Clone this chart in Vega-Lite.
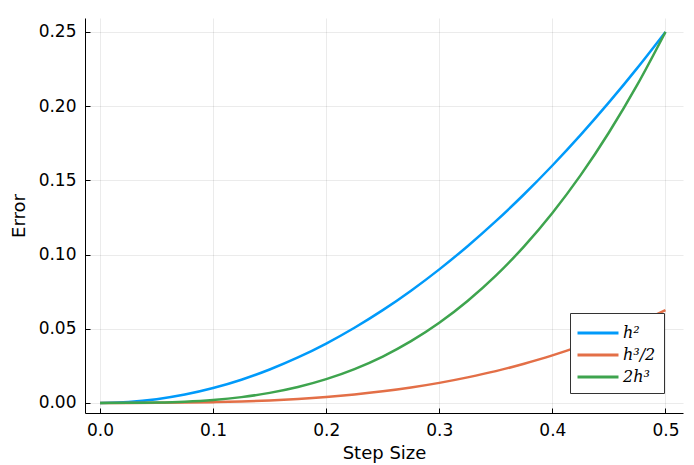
{
  "$schema": "https://vega.github.io/schema/vega-lite/v6.json",
  "width": 598,
  "height": 395,
  "autosize": {"type": "none"},
  "padding": {"left": 85, "top": 18, "right": 11, "bottom": 52},
  "background": "white",
  "data": {"values": [
    {"h": 0, "s": "h²", "e": 0}, {"h": 0.025, "s": "h²", "e": 0.000625}, {"h": 0.05, "s": "h²", "e": 0.0025}, {"h": 0.075, "s": "h²", "e": 0.005625}, {"h": 0.1, "s": "h²", "e": 0.01}, {"h": 0.125, "s": "h²", "e": 0.015625}, {"h": 0.15, "s": "h²", "e": 0.0225}, {"h": 0.175, "s": "h²", "e": 0.030625}, {"h": 0.2, "s": "h²", "e": 0.04}, {"h": 0.225, "s": "h²", "e": 0.050625}, {"h": 0.25, "s": "h²", "e": 0.0625}, {"h": 0.275, "s": "h²", "e": 0.075625}, {"h": 0.3, "s": "h²", "e": 0.09}, {"h": 0.325, "s": "h²", "e": 0.105625}, {"h": 0.35, "s": "h²", "e": 0.1225}, {"h": 0.375, "s": "h²", "e": 0.140625}, {"h": 0.4, "s": "h²", "e": 0.16}, {"h": 0.425, "s": "h²", "e": 0.180625}, {"h": 0.45, "s": "h²", "e": 0.2025}, {"h": 0.475, "s": "h²", "e": 0.225625}, {"h": 0.5, "s": "h²", "e": 0.25},
    {"h": 0, "s": "h³/2", "e": 0}, {"h": 0.025, "s": "h³/2", "e": 0.0000078}, {"h": 0.05, "s": "h³/2", "e": 0.0000625}, {"h": 0.075, "s": "h³/2", "e": 0.000211}, {"h": 0.1, "s": "h³/2", "e": 0.0005}, {"h": 0.125, "s": "h³/2", "e": 0.000977}, {"h": 0.15, "s": "h³/2", "e": 0.00169}, {"h": 0.175, "s": "h³/2", "e": 0.00268}, {"h": 0.2, "s": "h³/2", "e": 0.004}, {"h": 0.225, "s": "h³/2", "e": 0.0057}, {"h": 0.25, "s": "h³/2", "e": 0.0078}, {"h": 0.275, "s": "h³/2", "e": 0.0104}, {"h": 0.3, "s": "h³/2", "e": 0.0135}, {"h": 0.325, "s": "h³/2", "e": 0.0172}, {"h": 0.35, "s": "h³/2", "e": 0.0214}, {"h": 0.375, "s": "h³/2", "e": 0.0264}, {"h": 0.4, "s": "h³/2", "e": 0.032}, {"h": 0.425, "s": "h³/2", "e": 0.0384}, {"h": 0.45, "s": "h³/2", "e": 0.0456}, {"h": 0.475, "s": "h³/2", "e": 0.0536}, {"h": 0.5, "s": "h³/2", "e": 0.0625},
    {"h": 0, "s": "2h³", "e": 0}, {"h": 0.025, "s": "2h³", "e": 0.0000313}, {"h": 0.05, "s": "2h³", "e": 0.00025}, {"h": 0.075, "s": "2h³", "e": 0.000844}, {"h": 0.1, "s": "2h³", "e": 0.002}, {"h": 0.125, "s": "2h³", "e": 0.0039}, {"h": 0.15, "s": "2h³", "e": 0.00675}, {"h": 0.175, "s": "2h³", "e": 0.0107}, {"h": 0.2, "s": "2h³", "e": 0.016}, {"h": 0.225, "s": "2h³", "e": 0.0228}, {"h": 0.25, "s": "2h³", "e": 0.03125}, {"h": 0.275, "s": "2h³", "e": 0.0416}, {"h": 0.3, "s": "2h³", "e": 0.054}, {"h": 0.325, "s": "2h³", "e": 0.0687}, {"h": 0.35, "s": "2h³", "e": 0.08575}, {"h": 0.375, "s": "2h³", "e": 0.1055}, {"h": 0.4, "s": "2h³", "e": 0.128}, {"h": 0.425, "s": "2h³", "e": 0.1535}, {"h": 0.45, "s": "2h³", "e": 0.18225}, {"h": 0.475, "s": "2h³", "e": 0.2143}, {"h": 0.5, "s": "2h³", "e": 0.25}
  ]},
  "mark": {"type": "line", "strokeWidth": 2.5, "clip": true, "interpolate": "monotone"},
  "encoding": {
    "x": {"field": "h", "type": "quantitative", "title": "Step Size",
      "scale": {"domain": [-0.0133, 0.5155], "nice": false, "zero": false},
      "axis": {"values": [0, 0.1, 0.2, 0.3, 0.4, 0.5], "format": ".1f"}},
    "y": {"field": "e", "type": "quantitative", "title": "Error",
      "scale": {"domain": [-0.0068, 0.2594], "nice": false, "zero": false},
      "axis": {"values": [0, 0.05, 0.1, 0.15, 0.2, 0.25], "format": ".2f"}},
    "color": {"field": "s", "type": "nominal", "sort": ["h²", "h³/2", "2h³"],
      "scale": {"domain": ["h²", "h³/2", "2h³"], "range": ["#009AFA", "#E36F47", "#3EA44E"]},
      "legend": {"title": null, "orient": "none", "legendX": 485, "legendY": 295,
        "symbolType": "M-2,0L2,0", "symbolSize": 420, "symbolStrokeWidth": 3, "symbolOffset": 8,
        "labelFont": "DejaVu Serif", "labelFontStyle": "italic", "labelFontSize": 16, "labelColor": "#000",
        "strokeColor": "#333", "fillColor": "white", "padding": 8, "rowPadding": 2, "labelOffset": 13}}
  },
  "config": {
    "view": {"stroke": null},
    "font": "DejaVu Sans",
    "axis": {
      "labelFont": "DejaVu Sans", "labelFontSize": 17, "labelColor": "#000",
      "titleFont": "DejaVu Sans", "titleFontSize": 18, "titleFontWeight": "normal", "titleColor": "#000",
      "domainColor": "#000", "domainWidth": 1,
      "tickColor": "#000", "tickSize": -5, "labelPadding": 14,
      "gridColor": "#000", "gridOpacity": 0.08, "gridWidth": 1
    },
    "axisX": {"titlePadding": 6},
    "axisY": {"titlePadding": 10}
  }
}
